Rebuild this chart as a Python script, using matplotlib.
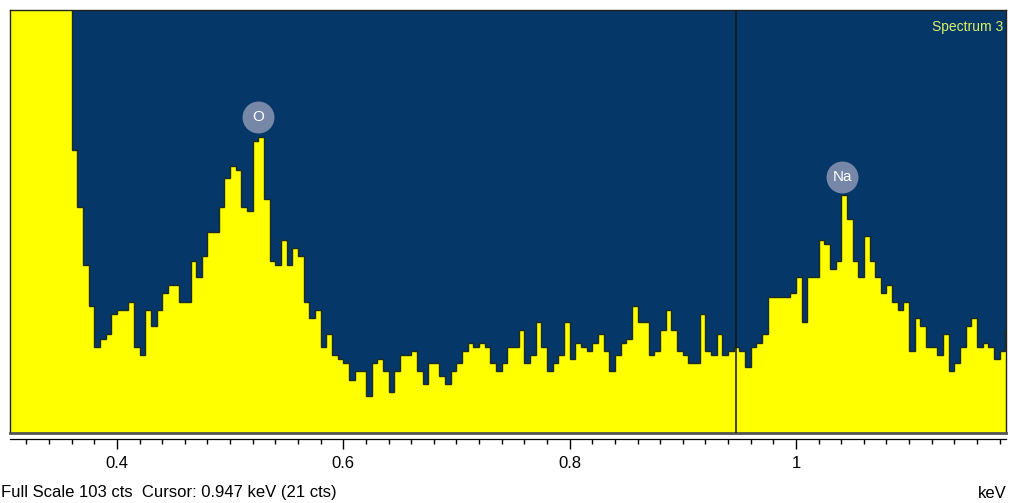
import numpy as np
import matplotlib
matplotlib.use('Agg')
import matplotlib.pyplot as plt
from matplotlib.ticker import MultipleLocator

plt.rcParams['font.family'] = ['Liberation Sans', 'DejaVu Sans']

# EDS spectrum, 5 eV channels starting at 0.305 keV
start_kev = 0.305
channel_kev = 0.005
counts = [
    # 0.305 - 0.355 (off scale)
    520, 480, 430, 390, 340, 300, 260, 220, 180, 150, 118,
    # 0.360 -
    69, 55, 41, 31, 21, 23, 24, 29, 30, 30,
    32, 21, 19, 30, 26, 30, 34, 36, 36, 32,
    32, 42, 38, 43, 49, 49, 55, 62, 65, 64,
    55, 54, 71, 72, 57, 42, 41, 47, 41, 45,
    43, 32, 28, 30, 21, 24, 19, 18, 17, 13,
    15, 15, 9, 17, 18, 15, 10, 15, 19, 19,
    20, 15, 12, 17, 17, 14, 12, 15, 17, 20,
    22, 21, 22, 21, 17, 15, 17, 21, 21, 25,
    17, 19, 27, 21, 15, 17, 19, 27, 18, 22,
    21, 20, 22, 24, 20, 15, 19, 22, 23, 31,
    27, 27, 19, 20, 25, 30, 25, 20, 19, 17,
    17, 29, 20, 19, 24, 19, 20, 21, 20, 16,
    21, 22, 24, 33, 33, 33, 33, 34, 38, 27,
    38, 38, 47, 46, 40, 42, 58, 52, 42, 38,
    48, 42, 38, 34, 36, 32, 30, 32, 20, 28,
    26, 21, 21, 19, 24, 15, 17, 21, 26, 28,
    21, 22, 21, 18, 20, 25,
]
full_scale = 103
cursor_kev = 0.947
cursor_cts = 21
x_range = (0.3055, 1.1856)

peak_labels = ['O', 'Na']
peak_kev = [0.525, 1.041]
peak_label_cts = [77, 62.4]

major_ticks = [0.4, 0.6, 0.8, 1.0]
major_labels = ['0.4', '0.6', '0.8', '1']

navy = '#053868'
yellow = '#ffff00'

W, H = 1009, 503
fig = plt.figure(figsize=(W / 100, H / 100), dpi=100)

ax = fig.add_axes([10 / W, (H - 433) / H, 996 / W, 423 / H])
ax.set_facecolor(navy)
edges = start_kev + channel_kev * np.arange(len(counts) + 1)
ax.stairs(counts, edges, fill=True, color=yellow, zorder=2)
ax.stairs(counts, edges, color='#1c2a22', lw=1.0, zorder=3)
ax.axvline(cursor_kev, color='#151515', lw=1.1, zorder=4)
ax.set_xlim(*x_range)
ax.set_ylim(0, full_scale)
ax.set_xticks([])
ax.set_yticks([])
for side in ['top', 'left', 'right']:
    ax.spines[side].set_color('#222222')
    ax.spines[side].set_linewidth(1)
ax.spines['bottom'].set_color('#555555')
ax.spines['bottom'].set_linewidth(2)

# element markers
for name, e, y in zip(peak_labels, peak_kev, peak_label_cts):
    ax.plot([e], [y], marker='o', ms=23, mfc='#7d8cab', mec='none',
            alpha=0.95, zorder=5)
    ax.text(e, y, name, ha='center', va='center', color='white',
            fontsize=11, zorder=6)

ax.text(0.997, 0.96, 'Spectrum 3', transform=ax.transAxes, ha='right',
        va='center', color='#dcf06a', fontsize=10)

# energy ruler under the spectrum
ruler = fig.add_axes([10 / W, (H - 439) / H, 996 / W, 0.0001])
ruler.set_xlim(*x_range)
ruler.set_yticks([])
for side in ['top', 'left', 'right']:
    ruler.spines[side].set_visible(False)
ruler.spines['bottom'].set_linewidth(0.9)
ruler.set_xticks(major_ticks)
ruler.set_xticklabels(major_labels)
ruler.xaxis.set_minor_locator(MultipleLocator(0.02))
ruler.tick_params(which='major', length=7.5, width=1, direction='out',
                  pad=5, labelsize=12)
ruler.tick_params(which='minor', length=3.5, width=1, direction='out')

fig.text(1 / W, (H - 493) / H,
         'Full Scale 103 cts  Cursor: %.3f keV (%d cts)' % (cursor_kev, cursor_cts),
         ha='left', va='center', fontsize=12)
fig.text(1007 / W, (H - 493) / H, 'keV', ha='right', va='center', fontsize=12)

fig.savefig('out.png', dpi=100, facecolor='white')
